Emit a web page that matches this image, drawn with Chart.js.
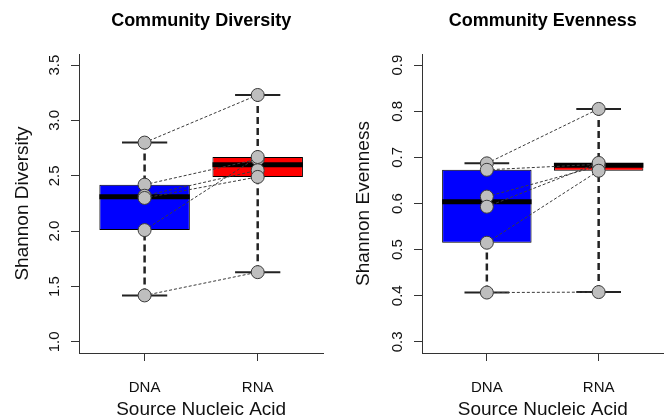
<!DOCTYPE html>
<html>
<head>
<meta charset="utf-8">
<script src="https://cdn.jsdelivr.net/npm/chart.js@4.4.0/dist/chart.umd.min.js"></script>
<style>
  html, body { margin: 0; padding: 0; background: #fff; }
  .wrap { display: flex; width: 671px; height: 418px; }
  canvas { display: block; }
</style>
</head>
<body>
<div class="wrap">
  <canvas id="diversity" width="335" height="418"></canvas>
  <canvas id="evenness" width="336" height="418"></canvas>
</div>
<script>
const groups = ['DNA', 'RNA'];

// paired samples: item i of the DNA array goes with item i of the RNA array
const diversityDNA = [2.80, 2.42, 2.32, 2.30, 2.01, 1.42];
const diversityRNA = [3.23, 2.65, 2.55, 2.49, 2.67, 1.63];
const evennessDNA = [0.687, 0.673, 0.615, 0.593, 0.515, 0.407];
const evennessRNA = [0.805, 0.685, 0.681, 0.688, 0.671, 0.408];

const diversityTicks = [1.0, 1.5, 2.0, 2.5, 3.0, 3.5];
const evennessTicks = [0.3, 0.4, 0.5, 0.6, 0.7, 0.8, 0.9];

const FONT = "'Liberation Sans', Arial, Helvetica, sans-serif";
const AXIS = '#333';

// Tukey five number summary, same as R's fivenum()
function fivenum(arr) {
  const x = arr.slice().sort((a, b) => a - b);
  const n = x.length;
  const n4 = Math.floor((n + 3) / 2) / 2;
  const d = [1, n4, (n + 1) / 2, n + 1 - n4, n];
  return d.map(i => 0.5 * (x[Math.floor(i) - 1] + x[Math.ceil(i) - 1]));
}

// R pads the axis range by 4% on each side
function padRange(lo, hi) {
  const p = (hi - lo) * 0.04;
  return [lo - p, hi + p];
}

function drawPanel(id, title, yTitle, dna, rna, yTicks, lay) {
  const stats = [fivenum(dna), fivenum(rna)];
  const gap = () => ({ x: null, y: null });

  const boxes = [], medians = [], staples = [], whiskers = [], points = [], pairs = [];
  stats.forEach((s, g) => {
    const x = g + 1;
    boxes.push({ x: x, y: [s[1], s[3]] });
    medians.push({ x: x - 0.4, y: s[2] }, { x: x + 0.4, y: s[2] }, gap());
    staples.push({ x: x - 0.2, y: s[4] }, { x: x + 0.2, y: s[4] }, gap());
    staples.push({ x: x - 0.2, y: s[0] }, { x: x + 0.2, y: s[0] }, gap());
    whiskers.push({ x: x, y: s[4] }, { x: x, y: s[3] }, gap());
    whiskers.push({ x: x, y: s[0] }, { x: x, y: s[1] }, gap());
  });
  dna.forEach((v, i) => {
    points.push({ x: 1, y: v }, { x: 2, y: rna[i] });
    pairs.push({ x: 1, y: v }, { x: 2, y: rna[i] }, gap());
  });

  const xr = padRange(0.5, 2.5);
  const yr = padRange(yTicks[0], yTicks[yTicks.length - 1]);

  new Chart(document.getElementById(id), {
    type: 'bar',
    data: {
      datasets: [
        {
          type: 'line', data: points, showLine: false, order: 0,
          pointRadius: 6.5, pointHoverRadius: 6.5,
          pointBackgroundColor: '#bebebe', pointBorderColor: '#3a3a3a', pointBorderWidth: 1
        },
        {
          type: 'line', data: pairs, order: 1, pointRadius: 0,
          borderColor: '#3a3a3a', borderWidth: 1, borderDash: [3, 2]
        },
        {
          type: 'line', data: medians, order: 2, pointRadius: 0,
          borderColor: '#000', borderWidth: 5, borderCapStyle: 'butt'
        },
        {
          type: 'line', data: staples, order: 3, pointRadius: 0,
          borderColor: '#222', borderWidth: 2
        },
        {
          type: 'line', data: whiskers, order: 4, pointRadius: 0,
          borderColor: '#222', borderWidth: 2.5, borderDash: [7, 4]
        },
        {
          type: 'bar', data: boxes, order: 5,
          backgroundColor: ['#0000ff', '#ff0000'], borderColor: '#000', borderWidth: 1,
          borderSkipped: false, barPercentage: 1, categoryPercentage: 0.8
        }
      ]
    },
    options: {
      responsive: false,
      animation: false,
      events: [],
      layout: { padding: { left: 0, right: lay.right, top: 0, bottom: 0 } },
      plugins: {
        legend: { display: false },
        tooltip: { enabled: false },
        title: {
          display: true, text: title, fullSize: false, color: '#000',
          font: { family: FONT, size: 18, weight: 'bold' },
          padding: { top: 10, bottom: 22.4 }
        }
      },
      scales: {
        x: {
          type: 'linear', min: xr[0], max: xr[1], offset: false,
          afterBuildTicks: s => { s.ticks = groups.map((g, i) => ({ value: i + 1 })); },
          afterFit: s => { s.height = 65; },
          grid: { offset: false, drawOnChartArea: false, tickLength: 8, color: AXIS },
          border: { color: AXIS, width: 1 },
          ticks: {
            callback: (v, i) => groups[i], color: '#111', maxRotation: 0,
            padding: 18, font: { family: FONT, size: 15 }
          },
          title: {
            display: true, text: 'Source Nucleic Acid', color: '#111',
            font: { family: FONT, size: 19 }, padding: { top: 0, bottom: -3 }
          }
        },
        y: {
          type: 'linear', min: yr[0], max: yr[1], beginAtZero: false,
          afterBuildTicks: s => { s.ticks = yTicks.map(v => ({ value: v })); },
          afterFit: s => { s.width = lay.yWidth; },
          grid: { drawOnChartArea: false, tickLength: 8, color: AXIS },
          border: { color: AXIS, width: 1 },
          ticks: {
            callback: v => v.toFixed(1), color: '#111',
            minRotation: 90, maxRotation: 90, crossAlign: 'center', padding: 6,
            font: { family: FONT, size: 15 }
          },
          title: {
            display: true, text: yTitle, color: '#111',
            font: { family: FONT, size: 19 }, padding: { top: lay.yTitlePad, bottom: 0 }
          }
        }
      }
    }
  });
}

drawPanel('diversity', 'Community Diversity', 'Shannon Diversity',
  diversityDNA, diversityRNA, diversityTicks, { yWidth: 79, right: 11.7, yTitlePad: 11.6 });
drawPanel('evenness', 'Community Evenness', 'Shannon Evenness',
  evennessDNA, evennessRNA, evennessTicks, { yWidth: 87, right: 4.5, yTitlePad: 17 });
</script>
</body>
</html>
